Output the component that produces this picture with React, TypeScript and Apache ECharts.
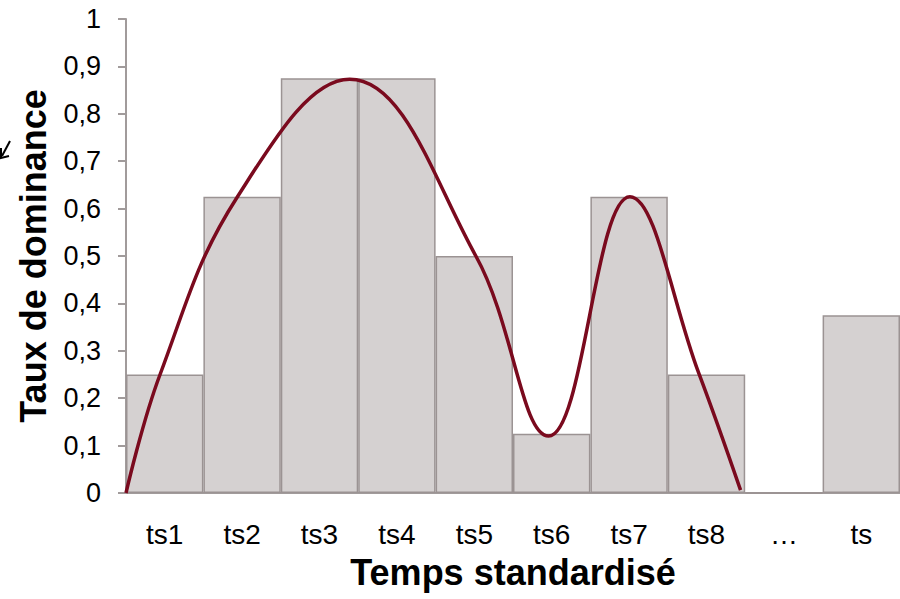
import React, { useEffect, useRef } from "react";
import * as echarts from "echarts";

const categories = ["ts1", "ts2", "ts3", "ts4", "ts5", "ts6", "ts7", "ts8", "…", "ts"];
const barValues = [0.25, 0.625, 0.875, 0.875, 0.5, 0.125, 0.625, 0.25, 0, 0.375];
// curve points: [position in category units from left edge, value]
const curveX = [0, 0.44, 1.44, 2.89, 4.52, 5.46, 6.51, 7.4, 7.94];
const curveY = [0, 0.25, 0.625, 0.873, 0.5, 0.12, 0.625, 0.253, 0.006];
const yTicks = [0, 0.1, 0.2, 0.3, 0.4, 0.5, 0.6, 0.7, 0.8, 0.9, 1];

const FONT = "'Liberation Sans', Arial, sans-serif";
const AXIS_COLOR = "#a19b9b";

export default function App() {
  const ref = useRef<HTMLDivElement>(null);
  useEffect(() => {
    if (!ref.current) return;
    const chart = echarts.init(ref.current, undefined, { renderer: "svg" });
    chart.setOption({
      animation: false,
      grid: { left: 126, right: -2, top: 19, bottom: 106, containLabel: false },
      xAxis: [
        {
          type: "category",
          data: categories,
          boundaryGap: true,
          axisLine: { show: true, lineStyle: { color: AXIS_COLOR, width: 2 } },
          axisTick: { show: false },
          axisLabel: { color: "#000", fontSize: 28, fontFamily: FONT, margin: 27, interval: 0 },
          name: "Temps standardisé",
          nameLocation: "middle",
          nameGap: 61,
          nameTextStyle: { color: "#000", fontSize: 36, fontWeight: "bold", fontFamily: FONT },
        },
        {
          type: "value",
          min: 0,
          max: categories.length,
          show: false,
        },
      ],
      yAxis: {
        type: "value",
        min: 0,
        max: 1,
        interval: 0.1,
        axisLine: { show: true, lineStyle: { color: AXIS_COLOR, width: 2 } },
        axisTick: { show: true, inside: false, length: 8, lineStyle: { color: AXIS_COLOR, width: 2 } },
        splitLine: { show: false },
        axisLabel: {
          color: "#000",
          fontSize: 27,
          fontFamily: FONT,
          margin: 25,
          formatter: (v: number) => {
            const t = yTicks.find((x) => Math.abs(x - v) < 1e-6);
            const n = t === undefined ? v : t;
            return String(Math.round(n * 10) / 10).replace(".", ",");
          },
        },
        name: "Taux de dominance",
        nameLocation: "middle",
        nameGap: 75,
        nameTextStyle: { color: "#000", fontSize: 36, fontWeight: "bold", fontFamily: FONT },
      },
      series: [
        {
          type: "bar",
          data: barValues,
          barCategoryGap: "0%",
          itemStyle: { color: "#d5d1d1", borderColor: "#9b9393", borderWidth: 1.5 },
          silent: true,
        },
        {
          type: "line",
          xAxisIndex: 1,
          data: curveX.map((x, i) => [x, curveY[i]]),
          smooth: 0.4,
          showSymbol: false,
          symbol: "none",
          lineStyle: { color: "#7a0a1e", width: 3.5 },
          silent: true,
          z: 5,
        },
      ],
      graphic: [
        { type: "line", shape: { x1: 10, y1: 141, x2: 2, y2: 156 }, style: { stroke: "#000", lineWidth: 2 } },
        { type: "polyline", shape: { points: [[1, 148], [1, 158], [9, 156]] }, style: { stroke: "#000", lineWidth: 2, fill: null } },
      ],
    });
    return () => chart.dispose();
  }, []);
  return <div ref={ref} style={{ width: 900, height: 599, position: "absolute", left: 0, top: 0 }} />;
}
